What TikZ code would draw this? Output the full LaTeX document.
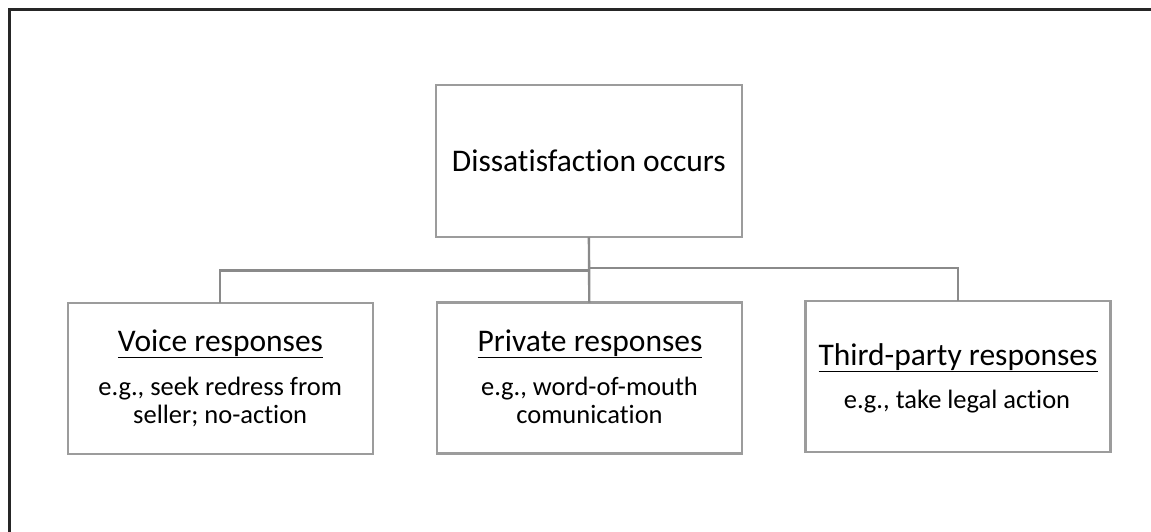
\documentclass[tikz,border=0pt]{standalone}
\usepackage{fontspec}
\setmainfont{Carlito}[Ligatures=NoCommon]
\definecolor{boxgray}{HTML}{9C9C9C}
\definecolor{linkgray}{HTML}{8A8A8A}
% underline that runs through the descenders, as in office documents
\newcommand\ulword[1]{\setbox0\hbox{#1}\rlap{\rule[-7.4pt]{\wd0}{1.7pt}}\box0}
\begin{document}
\begin{tikzpicture}[x=1pt,y=-1pt,
  box/.style={draw=boxgray,line width=2.4pt,fill=white,minimum width=305pt,
    minimum height=151pt,inner sep=0pt,outer sep=0pt},
  link/.style={draw=linkgray,line width=2.4pt},
  frame/.style={draw=black!85,line width=2.2pt},
  head/.style={anchor=base,inner sep=0pt,font=\fontsize{31.5}{36}\selectfont},
  body/.style={anchor=base,inner sep=0pt,font=\fontsize{26.5}{30}\selectfont},
  main/.style={font=\fontsize{31.5}{36}\selectfont}]
\useasboundingbox (0,0) rectangle (1151,531);
% open frame along the top and left edges
\draw[frame] (9.5,540) -- (9.5,9.5) -- (1160,9.5);

% boxes
\node[box,main,minimum width=305.7pt,minimum height=152pt] (top) at (588.9,161.2) {Dissatisfaction occurs};
\node[box] (voice) at (220.2,378.3) {};
\node[box] (priv) at (589.3,378.1) {};
\node[box] (third) at (958,376.2) {};

% connectors
\coordinate (busL) at (589.2,270.5);
\coordinate (busR) at (589.2,268.2);
\draw[link] (top.south) -- (priv.north);
\draw[link] (busL) -| (voice.north);
\draw[link] (busR) -| (third.north);

% box texts
\node[head] (voiceH) at (220.5,351) {\ulword{Voice responses}};
\node[body] (voiceA) at (220.2,395.5) {e.g., seek redress from};
\node[body] (voiceB) at (220.2,423) {seller; no-action};

\node[head] (privH) at (590,351) {\ulword{Private responses}};
\node[body] (privA) at (589.5,395.5) {e.g., word-of-mouth};
\node[body] (privB) at (589.5,423) {comunication};

\node[head] (thirdH) at (958,365) {\ulword{Third-party responses}};
\node[body] (thirdA) at (957,408.3) {e.g., take legal action};
\end{tikzpicture}
\end{document}
